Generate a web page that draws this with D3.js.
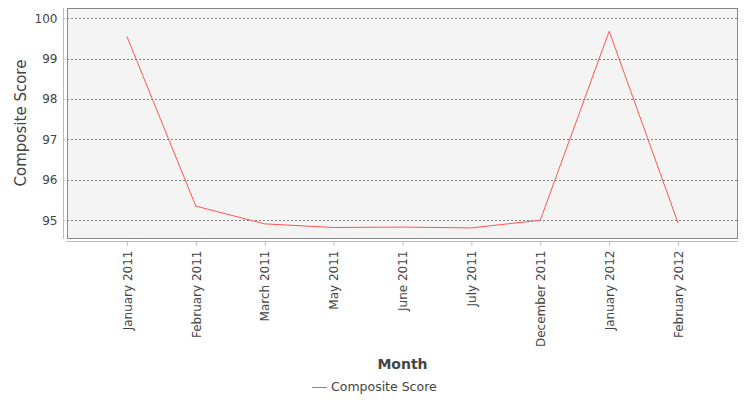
<!DOCTYPE html>
<html lang="en">
<head>
<meta charset="UTF-8">
<title>Composite Score</title>
<script src="https://d3js.org/d3.v7.min.js"></script>
<style>
    body { margin: 0; background: #fff; }
    text { font-family: "DejaVu Sans", sans-serif; }
</style>
</head>
<body>
<svg id="chart" width="750" height="400"></svg>
<script>
    const months = ["January 2011", "February 2011", "March 2011", "May 2011", "June 2011",
        "July 2011", "December 2011", "January 2012", "February 2012"];
    const scores = [99.55, 95.35, 94.91, 94.82, 94.83, 94.81, 95.0, 99.68, 94.93];
    const yTicks = [95, 96, 97, 98, 99, 100];
    const seriesName = "Composite Score";

    const svg = d3.select("#chart");
    const plot = { left: 67, top: 8, right: 738, bottom: 238 };

    const x = d3.scalePoint()
        .domain(months)
        .range([plot.left, plot.right])
        .padding(0.87);

    const y = d3.scaleLinear()
        .domain([94.56, 100.255])
        .range([plot.bottom, plot.top]);

    // plot background
    svg.append("rect")
        .attr("x", plot.left)
        .attr("y", plot.top)
        .attr("width", plot.right - plot.left)
        .attr("height", plot.bottom - plot.top)
        .attr("fill", "#f4f4f4");

    // gridlines
    svg.append("g")
        .selectAll("line")
        .data(yTicks)
        .join("line")
        .attr("x1", plot.left)
        .attr("x2", plot.right)
        .attr("y1", d => Math.round(y(d)) + 0.5)
        .attr("y2", d => Math.round(y(d)) + 0.5)
        .attr("stroke", "#808080")
        .attr("stroke-width", 1)
        .attr("stroke-dasharray", "2,2");

    svg.append("rect")
        .attr("x", plot.left + 0.5)
        .attr("y", plot.top + 0.5)
        .attr("width", plot.right - plot.left - 1)
        .attr("height", plot.bottom - plot.top)
        .attr("fill", "none")
        .attr("stroke", "#888");

    // y axis
    const yAxis = svg.append("g")
        .attr("transform", "translate(63.5,0)")
        .call(d3.axisLeft(y).tickValues(yTicks).tickFormat(d3.format("d")).tickSize(-2).tickPadding(6));
    yAxis.select(".domain")
        .attr("d", `M0,${plot.top}V${plot.bottom + 1}`)
        .attr("stroke", "#bbb");
    yAxis.selectAll(".tick line").attr("stroke", "#bbb");
    yAxis.selectAll("text")
        .attr("font-size", 12)
        .attr("fill", "#444")
        .attr("font-family", "DejaVu Sans, sans-serif");

    // x axis
    const xAxis = svg.append("g")
        .attr("transform", "translate(0,241.5)")
        .call(d3.axisBottom(x).tickSize(4).tickSizeOuter(0));
    xAxis.select(".domain")
        .attr("d", `M${plot.left - 1},0H${plot.right}`)
        .attr("stroke", "#bbb");
    xAxis.selectAll(".tick line").attr("stroke", "#bbb");
    xAxis.selectAll("text")
        .attr("font-size", 12)
        .attr("fill", "#444")
        .attr("font-family", "DejaVu Sans, sans-serif")
        .attr("transform", "rotate(-90)")
        .attr("text-anchor", "end")
        .attr("x", -9)
        .attr("y", 0)
        .attr("dy", "0.35em");

    // line
    const line = d3.line()
        .x((d, i) => x(months[i]))
        .y(d => y(d));

    svg.append("path")
        .datum(scores)
        .attr("d", line)
        .attr("fill", "none")
        .attr("stroke", "#ff5555")
        .attr("stroke-width", 1);

    // axis titles
    svg.append("text")
        .attr("x", (plot.left + plot.right) / 2)
        .attr("y", 369)
        .attr("text-anchor", "middle")
        .attr("font-size", 14)
        .attr("font-weight", "bold")
        .attr("fill", "#444")
        .text("Month");

    svg.append("text")
        .attr("transform", `translate(26,${(plot.top + plot.bottom) / 2}) rotate(-90)`)
        .attr("text-anchor", "middle")
        .attr("font-size", 15)
        .attr("fill", "#444")
        .text("Composite Score");

    // legend
    const legend = svg.append("g").attr("transform", "translate(312,387)");
    legend.append("line")
        .attr("x1", 0).attr("x2", 15)
        .attr("y1", 0.5).attr("y2", 0.5)
        .attr("stroke", "#ff5555");
    legend.append("text")
        .attr("x", 19)
        .attr("y", 0)
        .attr("dy", "0.35em")
        .attr("font-size", 12.5)
        .attr("fill", "#444")
        .text(seriesName);
</script>
</body>
</html>
